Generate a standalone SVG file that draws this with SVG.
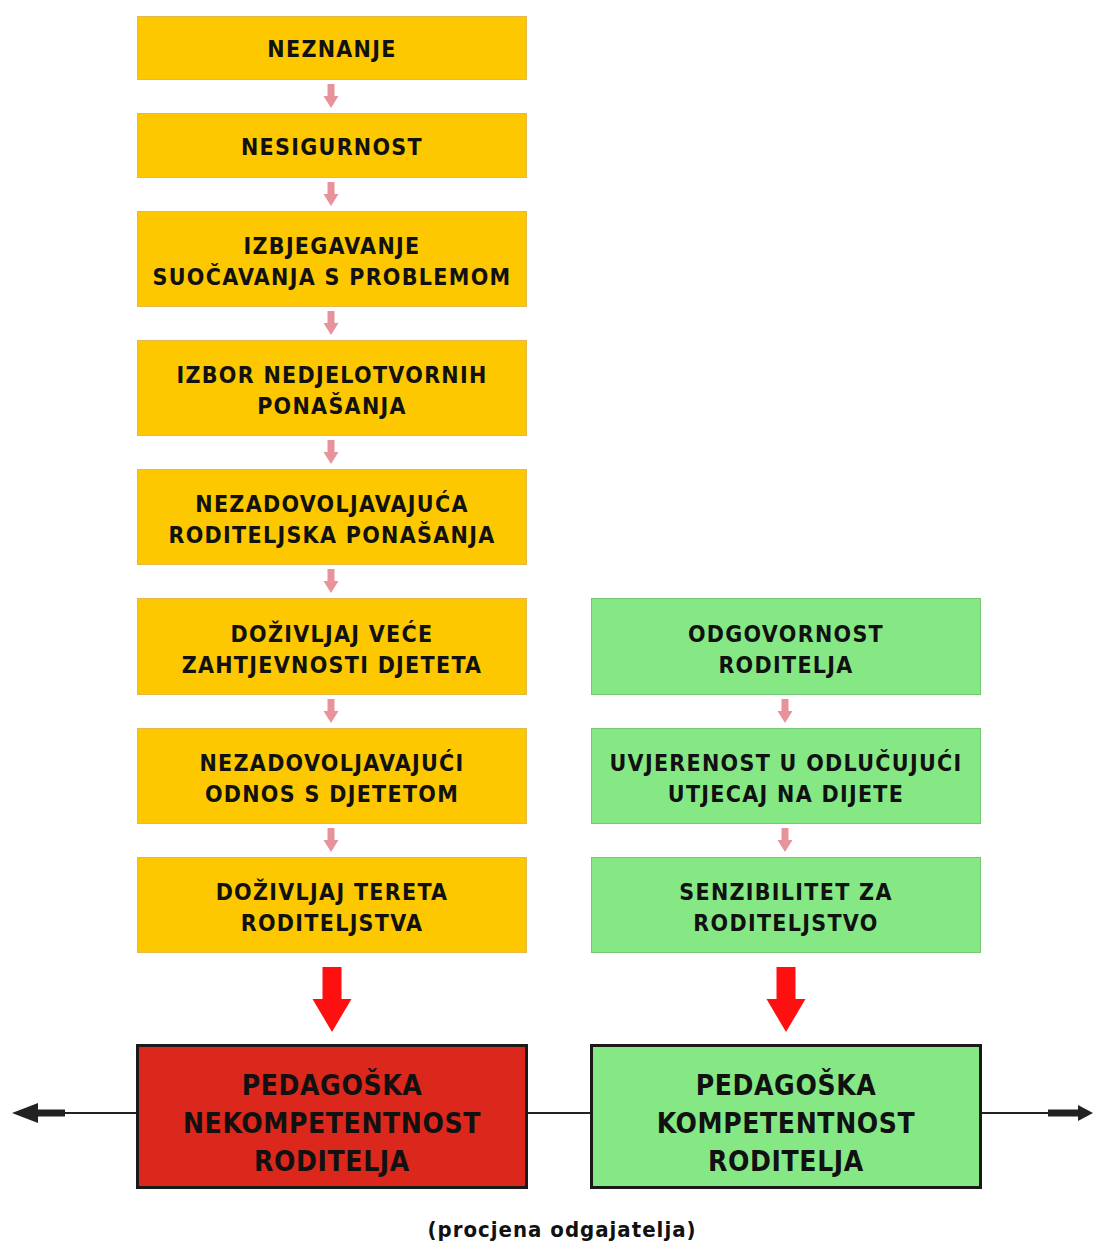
<svg xmlns="http://www.w3.org/2000/svg" width="1093" height="1243" viewBox="0 0 1093 1243">
<defs>
<style>
.y{fill:#fdc800;stroke:#e2b94a;stroke-width:1}
.g{fill:#86e884;stroke:#74c874;stroke-width:1}
.t,.tb,.cap{font-family:"DejaVu Sans Condensed","DejaVu Sans","Liberation Sans Narrow",sans-serif;font-stretch:condensed;font-weight:bold;fill:#111;text-anchor:middle}
.t{font-size:23px;letter-spacing:1.3px}
.tb{font-size:28px;letter-spacing:0.6px}
.cap{font-size:22px;letter-spacing:1px}
.pa{fill:#e8939b}
.ra{fill:#ff1010}
</style>
<path id="pink" class="pa" d="M-3.5,0 H3.5 V12 H7.5 L0,24 L-7.5,12 H-3.5 Z"/>
<path id="red" class="ra" d="M-9.5,0 H9.5 V32 H19.5 L0,65 L-19.5,32 H-9.5 Z"/>
</defs>
<rect width="1093" height="1243" fill="#fff"/>
<g id="connectors">
<use href="#pink" x="331" y="84"/>
<use href="#pink" x="331" y="182"/>
<use href="#pink" x="331" y="311"/>
<use href="#pink" x="331" y="440"/>
<use href="#pink" x="331" y="569"/>
<use href="#pink" x="331" y="699"/>
<use href="#pink" x="331" y="828"/>
<use href="#pink" x="785" y="699"/>
<use href="#pink" x="785" y="828"/>
<use href="#red" x="332" y="967"/>
<use href="#red" x="786" y="967"/>
<line x1="65" y1="1113" x2="1048" y2="1113" stroke="#222" stroke-width="2"/>
<path d="M12,1113 L38,1103 V1109.5 H65 V1116.5 H38 V1123 Z" fill="#222"/>
<path d="M1093,1113 L1078,1105 V1109.5 H1048 V1116.5 H1078 V1121 Z" fill="#222"/>
</g>
<g id="n1"><rect class="y" x="137.5" y="16.5" width="389" height="63"/><text class="t" x="332" y="57">NEZNANJE</text></g>
<g id="n2"><rect class="y" x="137.5" y="113.5" width="389" height="64"/><text class="t" x="332" y="155">NESIGURNOST</text></g>
<g id="n3"><rect class="y" x="137.5" y="211.5" width="389" height="95"/><text class="t" x="332" y="254">IZBJEGAVANJE</text><text class="t" x="332" y="285">SUOČAVANJA S PROBLEMOM</text></g>
<g id="n4"><rect class="y" x="137.5" y="340.5" width="389" height="95"/><text class="t" x="332" y="383">IZBOR NEDJELOTVORNIH</text><text class="t" x="332" y="414">PONAŠANJA</text></g>
<g id="n5"><rect class="y" x="137.5" y="469.5" width="389" height="95"/><text class="t" x="332" y="512">NEZADOVOLJAVAJUĆA</text><text class="t" x="332" y="543">RODITELJSKA PONAŠANJA</text></g>
<g id="n6"><rect class="y" x="137.5" y="598.5" width="389" height="96"/><text class="t" x="332" y="642">DOŽIVLJAJ VEĆE</text><text class="t" x="332" y="673">ZAHTJEVNOSTI DJETETA</text></g>
<g id="n7"><rect class="y" x="137.5" y="728.5" width="389" height="95"/><text class="t" x="332" y="771">NEZADOVOLJAVAJUĆI</text><text class="t" x="332" y="802">ODNOS S DJETETOM</text></g>
<g id="n8"><rect class="y" x="137.5" y="857.5" width="389" height="95"/><text class="t" x="332" y="900">DOŽIVLJAJ TERETA</text><text class="t" x="332" y="931">RODITELJSTVA</text></g>
<g id="g1"><rect class="g" x="591.5" y="598.5" width="389" height="96"/><text class="t" x="786" y="642">ODGOVORNOST</text><text class="t" x="786" y="673">RODITELJA</text></g>
<g id="g2"><rect class="g" x="591.5" y="728.5" width="389" height="95"/><text class="t" x="786" y="771">UVJERENOST U ODLUČUJUĆI</text><text class="t" x="786" y="802">UTJECAJ NA DIJETE</text></g>
<g id="g3"><rect class="g" x="591.5" y="857.5" width="389" height="95"/><text class="t" x="786" y="900">SENZIBILITET ZA</text><text class="t" x="786" y="931">RODITELJSTVO</text></g>
<g id="red-box"><rect x="137.5" y="1045.5" width="389" height="142" fill="#dc271c" stroke="#1a1a1a" stroke-width="3"/><text class="tb" x="332" y="1095">PEDAGOŠKA</text><text class="tb" x="332" y="1133">NEKOMPETENTNOST</text><text class="tb" x="332" y="1171">RODITELJA</text></g>
<g id="green-box"><rect x="591.5" y="1045.5" width="389" height="142" fill="#86e884" stroke="#1a1a1a" stroke-width="3"/><text class="tb" x="786" y="1095">PEDAGOŠKA</text><text class="tb" x="786" y="1133">KOMPETENTNOST</text><text class="tb" x="786" y="1171">RODITELJA</text></g>
<text class="cap" x="562" y="1237">(procjena odgajatelja)</text>
</svg>
